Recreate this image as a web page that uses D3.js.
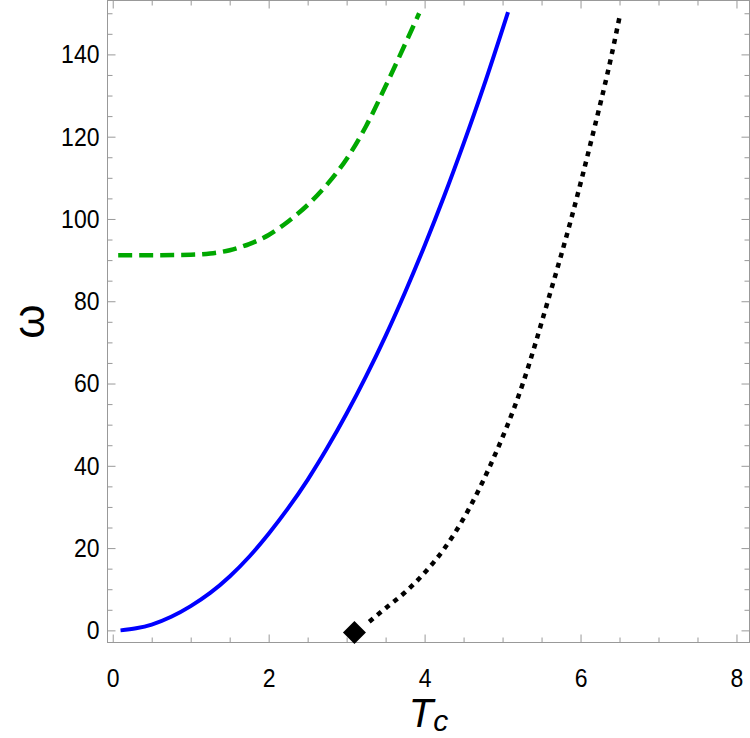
<!DOCTYPE html>
<html lang="en">
<head>
<meta charset="UTF-8">
<title>omega vs Tc</title>
<script src="https://d3js.org/d3.v7.min.js"></script>
<style>
    body { margin: 0; background: #fff; }
    svg { display: block; }
    .axis path.domain { display: none; }
    .axis line { stroke: #999; stroke-width: 1; }
</style>
</head>
<body>
<svg width="750" height="738"></svg>
<script>
// blue solid curve
const blueT = [0.1, 0.3, 0.5, 0.75, 1.0, 1.25, 1.5, 1.75, 2.0, 2.25, 2.5, 2.75, 3.0, 3.25, 3.5, 3.75, 4.0, 4.25, 4.5, 4.75, 5.07];
const blueW = [0, 0.5, 1.4, 3.3, 5.9, 9.1, 13.1, 17.9, 23.5, 29.7, 36.6, 44.3, 52.7, 61.8, 71.6, 82.2, 93.5, 105.5, 118.3, 131.8, 150.3];

// green dashed curve
const greenT = [0.07, 0.5, 1.0, 1.25, 1.5, 1.75, 2.0, 2.25, 2.5, 2.75, 3.0, 3.25, 3.5, 3.75, 3.93];
const greenW = [91.2, 91.2, 91.3, 91.6, 92.4, 93.9, 96.1, 99.4, 103.4, 108.4, 114.6, 122.6, 132.3, 142.5, 150.0];

// black dotted curve
const blackT = [3.29, 3.5, 3.77, 4.0, 4.25, 4.5, 4.84, 5.26, 5.58, 5.88, 6.15, 6.4, 6.51];
const blackW = [2.1, 5.4, 9.6, 14.0, 19.8, 27.2, 40, 60, 80, 100, 120, 140, 150];

// diamond marker
const markT = [3.1];
const markW = [-0.5];

const xTicks = [0, 2, 4, 6, 8];
const yTicks = [0, 20, 40, 60, 80, 100, 120, 140];
const xMinor = d3.range(0, 8.01, 0.5).filter(v => !xTicks.includes(v));
const yMinor = d3.range(0, 151, 5).filter(v => !yTicks.includes(v));

const font = "'Liberation Sans', Arial, sans-serif";
const svg = d3.select("svg");
const pLeft = 107.5, pRight = 749.5, pTop = 0.5, pBottom = 642.5;

const x = d3.scaleLinear().domain([-0.067, 8.167]).range([pLeft, pRight]);
const y = d3.scaleLinear().domain([-2.95, 153.1]).range([pBottom, pTop]);

// axes with inward ticks; labels are a little narrow and tall
function addAxis(axis, tr) {
    const g = svg.append("g").attr("class", "axis").attr("transform", tr).call(axis);
    g.selectAll("text")
        .attr("font-size", 26).attr("font-family", font).attr("fill", "#000")
        .attr("textLength", d => String(d).length * 12.8)
        .attr("lengthAdjust", "spacingAndGlyphs");
}
addAxis(d3.axisBottom(x).tickValues(xTicks).tickFormat(d3.format("d"))
    .tickSizeInner(-8).tickSizeOuter(0).tickPadding(26), `translate(0,${pBottom})`);
addAxis(d3.axisBottom(x).tickValues(xMinor).tickFormat("").tickSizeInner(-5).tickSizeOuter(0), `translate(0,${pBottom})`);
addAxis(d3.axisTop(x).tickValues(xTicks).tickFormat("").tickSizeInner(-8).tickSizeOuter(0), `translate(0,${pTop})`);
addAxis(d3.axisTop(x).tickValues(xMinor).tickFormat("").tickSizeInner(-5).tickSizeOuter(0), `translate(0,${pTop})`);

addAxis(d3.axisLeft(y).tickValues(yTicks).tickFormat(d3.format("d"))
    .tickSizeInner(-8).tickSizeOuter(0).tickPadding(8), `translate(${pLeft},0)`);
addAxis(d3.axisLeft(y).tickValues(yMinor).tickFormat("").tickSizeInner(-5).tickSizeOuter(0), `translate(${pLeft},0)`);
addAxis(d3.axisRight(y).tickValues(yTicks).tickFormat("").tickSizeInner(-8).tickSizeOuter(0), `translate(${pRight},0)`);
addAxis(d3.axisRight(y).tickValues(yMinor).tickFormat("").tickSizeInner(-5).tickSizeOuter(0), `translate(${pRight},0)`);

// frame
svg.append("rect")
    .attr("x", pLeft).attr("y", pTop)
    .attr("width", pRight - pLeft).attr("height", pBottom - pTop)
    .attr("fill", "none").attr("stroke", "#999").attr("stroke-width", 1);

const line = d3.line().x(d => x(d[0])).y(d => y(d[1])).curve(d3.curveMonotoneX);
const zip = (a, b) => a.map((v, i) => [v, b[i]]);

const plot = svg.append("g");

plot.append("path").datum(zip(greenT, greenW))
    .attr("d", line).attr("fill", "none")
    .attr("stroke", "#00a800").attr("stroke-width", 4.5)
    .attr("stroke-dasharray", "14,7");

plot.append("path").datum(zip(blueT, blueW))
    .attr("d", line).attr("fill", "none")
    .attr("stroke", "#0000ff").attr("stroke-width", 4);

plot.append("path").datum(zip(blackT, blackW))
    .attr("d", line).attr("fill", "none")
    .attr("stroke", "#000").attr("stroke-width", 4.5)
    .attr("stroke-dasharray", "5,5.5");

plot.selectAll(".mark").data(zip(markT, markW)).enter()
    .append("path").attr("class", "mark")
    .attr("d", d3.symbol().type(d3.symbolSquare).size(265))
    .attr("transform", d => `translate(${x(d[0])},${y(d[1])}) rotate(45)`)
    .attr("fill", "#000");

// axis titles
const xt = svg.append("text")
    .attr("x", (pLeft + pRight) / 2).attr("y", 727)
    .attr("text-anchor", "middle")
    .attr("font-family", font)
    .style("font-size", "40px").style("font-style", "italic");
xt.append("tspan").text("T");
xt.append("tspan").attr("dy", 4).style("font-size", "30px").text("c");

svg.append("text")
    .attr("transform", `translate(44,${(pTop + pBottom) / 2}) rotate(-90)`)
    .attr("text-anchor", "middle")
    .attr("font-family", font)
    .style("font-size", "44px")
    .text("ω");
</script>
</body>
</html>
